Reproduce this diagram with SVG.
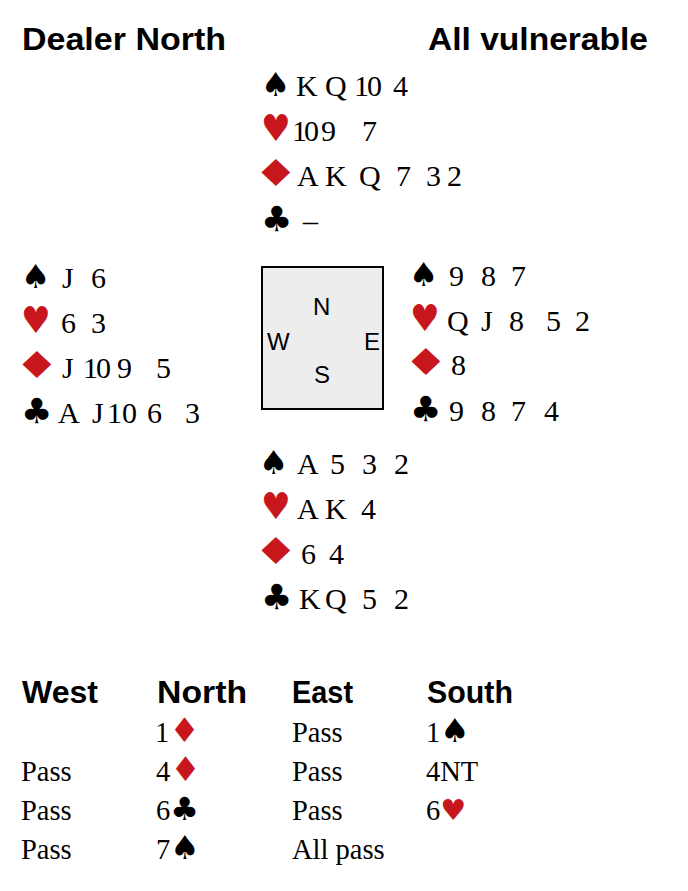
<svg xmlns="http://www.w3.org/2000/svg" width="688" height="891" viewBox="0 0 688 891">
<style>
.hdr{font-family:"Liberation Sans",Arial,sans-serif;font-weight:bold;font-size:32px;fill:#000}
.c{font-family:"Liberation Serif","Times New Roman",serif;font-size:30px;fill:#000}
.a{font-family:"Liberation Serif","Times New Roman",serif;font-size:28.5px;fill:#000}
.s{font-family:"DejaVu Sans",sans-serif;fill:#000}
.sp{font-size:33px}
.he{font-size:37px;fill:#c8161d}
.di{font-size:37px;fill:#c8161d}
.cl{font-size:35px}
.asp{font-family:"DejaVu Sans",sans-serif;font-size:33px;fill:#000}
.ahe{font-family:"DejaVu Sans",sans-serif;font-size:29px;fill:#c8161d}
.adi{font-family:"DejaVu Sans",sans-serif;font-size:34px;fill:#c8161d}
.acl{font-family:"DejaVu Sans",sans-serif;font-size:32px;fill:#000}
.t{letter-spacing:-2px}
.t3{letter-spacing:-3px}
.cmp{font-family:"Liberation Sans",Arial,sans-serif;font-size:24px;fill:#000}
</style>
<rect width="688" height="891" fill="#fff"/>
<g id="header">
<text class="hdr" x="22" y="50" textLength="204" lengthAdjust="spacingAndGlyphs">Dealer North</text>
<text class="hdr" x="428" y="50" textLength="220" lengthAdjust="spacingAndGlyphs">All vulnerable</text>
</g>
<g id="north">
<text class="s sp" x="261" y="96">♠</text>
<text class="c" y="96"><tspan x="296">K</tspan><tspan x="325">Q</tspan><tspan x="354" class="t">10</tspan><tspan x="393">4</tspan></text>
<text class="s he" transform="translate(261,141) scale(0.9,1)">♥</text>
<text class="c" y="141"><tspan x="292" class="t3">10</tspan><tspan x="321">9</tspan><tspan x="362">7</tspan></text>
<text class="s di" transform="translate(253,186) scale(1.38,1)">♦</text>
<text class="c" y="186"><tspan x="297">A</tspan><tspan x="325">K</tspan><tspan x="359">Q</tspan><tspan x="396">7</tspan><tspan x="426">3</tspan><tspan x="447">2</tspan></text>
<text class="s cl" x="261" y="231">♣</text>
<text class="c" x="303" y="231">–</text>
</g>
<g id="west">
<text class="s sp" x="21" y="288">♠</text>
<text class="c" y="288"><tspan x="62">J</tspan><tspan x="91">6</tspan></text>
<text class="s he" transform="translate(21,333) scale(0.9,1)">♥</text>
<text class="c" y="333"><tspan x="61">6</tspan><tspan x="91">3</tspan></text>
<text class="s di" transform="translate(14,378) scale(1.38,1)">♦</text>
<text class="c" y="378"><tspan x="62">J</tspan><tspan x="83" class="t">10</tspan><tspan x="117">9</tspan><tspan x="156">5</tspan></text>
<text class="s cl" x="21" y="423">♣</text>
<text class="c" y="423"><tspan x="58">A</tspan><tspan x="92">J</tspan><tspan x="107">10</tspan><tspan x="147">6</tspan><tspan x="185">3</tspan></text>
</g>
<g id="compass">
<rect x="262" y="267" width="121" height="142" fill="#ecedec" stroke="#000" stroke-width="2"/>
<text class="cmp" x="313" y="315">N</text>
<text class="cmp" x="267" y="350">W</text>
<text class="cmp" x="364" y="350">E</text>
<text class="cmp" x="314" y="383">S</text>
</g>
<g id="east">
<text class="s sp" x="409" y="286">♠</text>
<text class="c" y="286"><tspan x="449">9</tspan><tspan x="481">8</tspan><tspan x="511">7</tspan></text>
<text class="s he" transform="translate(410,331) scale(0.9,1)">♥</text>
<text class="c" y="331"><tspan x="447">Q</tspan><tspan x="481">J</tspan><tspan x="509">8</tspan><tspan x="546">5</tspan><tspan x="575">2</tspan></text>
<text class="s di" transform="translate(403,375) scale(1.38,1)">♦</text>
<text class="c" x="451" y="375">8</text>
<text class="s cl" x="410" y="421">♣</text>
<text class="c" y="421"><tspan x="449">9</tspan><tspan x="481">8</tspan><tspan x="511">7</tspan><tspan x="544">4</tspan></text>
</g>
<g id="south">
<text class="s sp" x="259" y="474">♠</text>
<text class="c" y="474"><tspan x="297">A</tspan><tspan x="330">5</tspan><tspan x="362">3</tspan><tspan x="394">2</tspan></text>
<text class="s he" transform="translate(261,519) scale(0.9,1)">♥</text>
<text class="c" y="519"><tspan x="297">A</tspan><tspan x="325">K</tspan><tspan x="361">4</tspan></text>
<text class="s di" transform="translate(253,564) scale(1.38,1)">♦</text>
<text class="c" y="564"><tspan x="301">6</tspan><tspan x="329">4</tspan></text>
<text class="s cl" x="261" y="609">♣</text>
<text class="c" y="609"><tspan x="299">K</tspan><tspan x="325">Q</tspan><tspan x="362">5</tspan><tspan x="394">2</tspan></text>
</g>
<g id="auction">
<text class="hdr" x="22" y="703" textLength="76" lengthAdjust="spacingAndGlyphs">West</text>
<text class="hdr" x="157" y="703" textLength="90" lengthAdjust="spacingAndGlyphs">North</text>
<text class="hdr" x="292" y="703" textLength="61" lengthAdjust="spacingAndGlyphs">East</text>
<text class="hdr" x="427" y="703" textLength="86" lengthAdjust="spacingAndGlyphs">South</text>
<text class="a" x="155" y="742">1<tspan class="adi">♦</tspan></text>
<text class="a" x="292" y="742">Pass</text>
<text class="a" x="426" y="742">1<tspan class="asp">♠</tspan></text>
<text class="a" x="21" y="781">Pass</text>
<text class="a" x="156" y="781">4<tspan class="adi">♦</tspan></text>
<text class="a" x="292" y="781">Pass</text>
<text class="a" x="426" y="781">4NT</text>
<text class="a" x="21" y="820">Pass</text>
<text class="a" x="156" y="820">6<tspan class="acl">♣</tspan></text>
<text class="a" x="292" y="820">Pass</text>
<text class="a" x="426" y="820">6<tspan class="ahe">♥</tspan></text>
<text class="a" x="21" y="859">Pass</text>
<text class="a" x="156" y="859">7<tspan class="asp">♠</tspan></text>
<text class="a" x="292" y="859">All pass</text>
</g>
</svg>
